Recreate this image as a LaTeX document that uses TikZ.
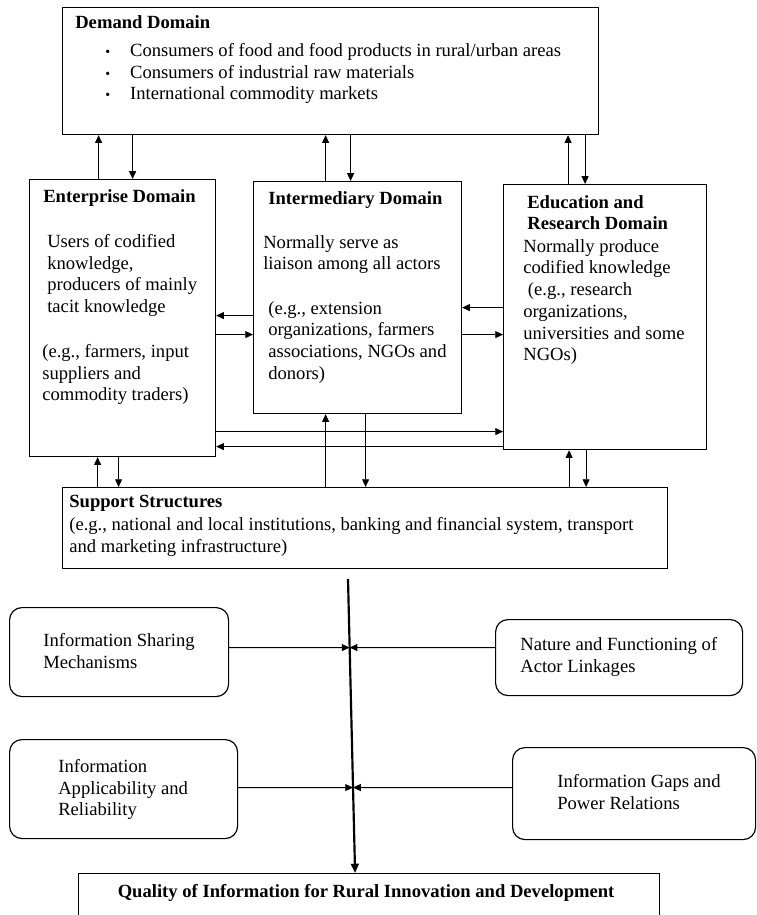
\documentclass[tikz,border=0pt]{standalone}
\usepackage{fontspec}
\setmainfont{Liberation Serif}
\usetikzlibrary{arrows.meta,calc}
\newcommand{\pxu}{0.645pt}
\newcommand{\bul}{\makebox[16pt][l]{\small\textbullet}}
\tikzset{
  box/.style={draw, line width=0.75pt, inner sep=0pt, anchor=north west},
  rbox/.style={box, rounded corners=8pt},
  wh/.style 2 args={minimum width=#1*\pxu, minimum height=#2*\pxu},
  txt/.style={anchor=north west, inner sep=0pt, align=left, font=\fontsize{12}{14}\selectfont},
  ttl/.style={txt, font=\fontsize{12}{14}\selectfont\bfseries},
  arr/.style={-{Triangle[length=5pt,width=4.5pt]}, line width=0.6pt}
}
\begin{document}
\begin{tikzpicture}[x=\pxu, y=-\pxu]
\useasboundingbox (0,0) rectangle (756,915);
\node[box, wh={536}{127}] (demand) at (62,7) {};
\node[ttl] (demandttl) at ([shift={(13,8)}]demand.north west) {Demand Domain};
\node[txt] (demandlist) at ([shift={(43,36)}]demand.north west) {\bul Consumers of food and food products in rural/urban areas\\ \bul Consumers of industrial raw materials\\ \bul International commodity markets};
\node[box, wh={186}{277}] (enterprise) at (29,179) {};
\node[ttl] (enterprisettl) at ([shift={(14,10)}]enterprise.north west) {Enterprise Domain};
\node[txt] (enterpriseuse) at ([shift={(18,55)}]enterprise.north west) {Users of codified\\knowledge,\\producers of mainly\\tacit knowledge};
\node[txt] (enterpriseeg) at ([shift={(13,165)}]enterprise.north west) {(e.g., farmers, input\\suppliers and\\commodity traders)};
\node[box, wh={208}{232}] (intermediary) at (253,181) {};
\node[ttl] (intermediaryttl) at ([shift={(15,10)}]intermediary.north west) {Intermediary Domain};
\node[txt] (intermediaryuse) at ([shift={(10,54)}]intermediary.north west) {Normally serve as\\liaison among all actors};
\node[txt] (intermediaryeg) at ([shift={(15,120)}]intermediary.north west) {(e.g., extension\\organizations, farmers\\associations, NGOs and\\donors)};
\node[box, wh={203}{265}] (education) at (503,184) {};
\node[ttl] (educationttl) at ([shift={(24,11)}]education.north west) {Education and\\Research Domain};
\node[txt] (educationuse) at ([shift={(20,55)}]education.north west) {Normally produce\\codified knowledge\\\hspace{3pt}(e.g., research\\organizations,\\universities and some\\NGOs)};
\node[box, wh={605}{81}] (support) at (62,487) {};
\node[ttl] (supportttl) at ([shift={(7,8)}]support.north west) {Support Structures};
\node[txt] (supporteg) at ([shift={(7,30)}]support.north west) {(e.g., national and local institutions, banking and financial system, transport\\and marketing infrastructure)};
\node[rbox, wh={219}{89}] (sharing) at (9,607) {};
\node[txt] (sharingtxt) at ([shift={(34,26)}]sharing.north west) {Information Sharing\\Mechanisms};
\node[rbox, wh={247}{76}] (linkages) at (495,619) {};
\node[txt] (linkagestxt) at ([shift={(25,18)}]linkages.north west) {Nature and Functioning of\\Actor Linkages};
\node[rbox, wh={228}{99}] (applicability) at (9,739) {};
\node[txt] (applicabilitytxt) at ([shift={(49,20)}]applicability.north west) {Information\\Applicability and\\Reliability};
\node[rbox, wh={243}{92}] (gaps) at (512,747) {};
\node[txt] (gapstxt) at ([shift={(45,27)}]gaps.north west) {Information Gaps and\\Power Relations};
\node[box, wh={581}{60}] (quality) at (78,873) {};
\node[ttl, anchor=center] (qualityttl) at ([shift={(-3,20)}]quality.north) {Quality of Information for Rural Innovation and Development};
\foreach \n/\a/\b in {enterprise/-24/10, intermediary/-32/-7, education/-37/-20}{
  \draw[arr] ([xshift=\a*\pxu]\n.north) -- ([xshift=\a*\pxu]\n.north |- demand.south);
  \draw[arr] ([xshift=\b*\pxu]\n.north |- demand.south) -- ([xshift=\b*\pxu]\n.north);
}
\foreach \n/\a/\b in {enterprise/-25/-4, intermediary/-32/8, education/-36/-19}{
  \draw[arr] ([xshift=\a*\pxu]\n.south |- support.north) -- ([xshift=\a*\pxu]\n.south);
  \draw[arr] ([xshift=\b*\pxu]\n.south) -- ([xshift=\b*\pxu]\n.south |- support.north);
}
\draw[arr] ([yshift=-18*\pxu]intermediary.west) -- ([yshift=-18*\pxu]intermediary.west -| enterprise.east);
\draw[arr] ([yshift=-37*\pxu]intermediary.west -| enterprise.east) -- ([yshift=-37*\pxu]intermediary.west);
\draw[arr] ([yshift=9.5*\pxu]education.west) -- ([yshift=9.5*\pxu]education.west -| intermediary.east);
\draw[arr] ([yshift=-17.5*\pxu]education.west -| intermediary.east) -- ([yshift=-17.5*\pxu]education.west);
\draw[arr] ([yshift=-114.5*\pxu]education.west -| enterprise.east) -- ([yshift=-114.5*\pxu]education.west);
\draw[arr] ([yshift=-129.5*\pxu]education.west) -- ([yshift=-129.5*\pxu]education.west -| enterprise.east);
\coordinate (hub) at (348,579);
\coordinate (hubend) at ([xshift=-14*\pxu]quality.north);
\draw[-{Triangle[length=6pt,width=5pt]}, line width=1.4pt] (hub) -- (hubend);
\coordinate (s1) at ([yshift=4.5*\pxu]sharing.east);
\coordinate (s2) at ([yshift=10*\pxu]linkages.west);
\coordinate (s3) at ([yshift=1.5*\pxu]applicability.east);
\coordinate (s4) at ([yshift=6*\pxu]gaps.west);
\foreach \s/\h in {s1/h1,s2/h2,s3/h3,s4/h4}{
  \coordinate (\h) at ([xshift=10pt]\s);
  \draw[arr] (\s) -- (intersection of hub--hubend and \s--\h);
}
\end{tikzpicture}
\end{document}
